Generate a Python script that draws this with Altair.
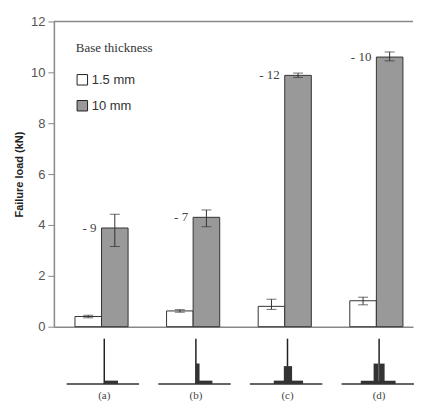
import altair as alt
import pandas as pd

# ---- data ----
groups = [1, 2, 3, 4]
group_labels = ["(a)", "(b)", "(c)", "(d)"]
series = ["1.5 mm", "10 mm"]
thin_mean = [0.40, 0.62, 0.80, 1.02]
thin_low = [0.35, 0.57, 0.68, 0.86]
thin_high = [0.45, 0.67, 1.08, 1.16]
thick_mean = [3.88, 4.30, 9.88, 10.60]
thick_low = [3.15, 3.93, 9.80, 10.45]
thick_high = [4.42, 4.59, 9.97, 10.80]
annotations = ["- 9", "- 7", "- 12", "- 10"]
y_ticks = [0, 2, 4, 6, 8, 10, 12]

# schematic specimen geometry (rib + base fillets), relative units
rib_offset = 0.03
rib_top = -0.47
base_y = -2.25
label_y = -2.72
base_left = -0.41
base_right = 0.38
# fillet rectangles per specimen: (group, dx1, dx2, y_top)
fillets = [
    (1, 0.00, 0.15, -2.12),
    (2, 0.00, 0.04, -1.45), (2, 0.00, 0.18, -2.12),
    (3, -0.04, 0.05, -1.55), (3, -0.15, 0.17, -2.12),
    (4, -0.06, -0.01, -1.45), (4, 0.01, 0.06, -1.45), (4, -0.20, 0.18, -2.12),
]

BW = 0.29

bars = pd.DataFrame({
    "g": groups * 2,
    "series": [series[0]] * 4 + [series[1]] * 4,
    "mean": thin_mean + thick_mean,
    "low": thin_low + thick_low,
    "high": thin_high + thick_high,
})
bars["x1"] = bars.apply(lambda r: r.g - BW if r.series == series[0] else r.g, axis=1)
bars["x2"] = bars.apply(lambda r: r.g if r.series == series[0] else r.g + BW, axis=1)
bars["xc"] = (bars.x1 + bars.x2) / 2

ann = pd.DataFrame({"g": groups, "y": thick_mean, "t": annotations})

diag = pd.DataFrame({"g": groups, "lab": group_labels})
diag["xr"] = diag.g + rib_offset
diag["xb1"] = diag.xr + base_left
diag["xb2"] = diag.xr + base_right
diag["ybase"] = base_y
diag["ytop"] = rib_top
diag["ylab"] = label_y

fil = pd.DataFrame(fillets, columns=["g", "d1", "d2", "yt"])
fil["x1"] = fil.g + rib_offset + fil.d1
fil["x2"] = fil.g + rib_offset + fil.d2
fil["yb"] = base_y

xs = alt.Scale(domain=[0.48, 4.4], nice=False, zero=False)
ys = alt.Scale(domain=[0, 12], nice=False)

xaxis = alt.Axis(labels=False, ticks=False, title=None, grid=False,
                 domainColor="#888", domainWidth=1.5)
yaxis = alt.Axis(values=y_ticks, grid=False, domainColor="#888", domainWidth=1.5,
                 tickColor="#888", tickSize=6, labelColor="#555",
                 labelFont="Liberation Sans", labelFontSize=13, labelPadding=3,
                 title="Failure load (kN)", titleFont="Liberation Sans",
                 titleFontSize=11, titleFontWeight="bold", titleColor="#222",
                 titlePadding=6)

bar_layer = alt.Chart(bars).mark_rect(stroke="#333", strokeWidth=1).encode(
    x=alt.X("x1:Q", scale=xs, axis=xaxis),
    x2="x2:Q",
    y=alt.Y("mean:Q", scale=ys, axis=yaxis),
    y2=alt.datum(0),
    fill=alt.Fill("series:N",
                  scale=alt.Scale(domain=series, range=["white", "#999999"]),
                  legend=alt.Legend(title="Base thickness", orient="none",
                                    legendX=22, legendY=21,
                                    titleFont="Liberation Serif", titleFontSize=13,
                                    titleFontWeight="normal", titleColor="#333",
                                    titlePadding=18,
                                    labelFont="Liberation Sans", labelFontSize=13,
                                    labelColor="#333", symbolType="square",
                                    symbolSize=110, symbolStrokeColor="#222",
                                    symbolStrokeWidth=1, rowPadding=11,
                                    labelOffset=3)),
)

err_rule = alt.Chart(bars).mark_rule(color="#333", strokeWidth=1).encode(
    x="xc:Q", y="low:Q", y2="high:Q")
cap_lo = alt.Chart(bars).mark_tick(color="#333", size=10, thickness=1,
                                   orient="horizontal").encode(x="xc:Q", y="low:Q")
cap_hi = alt.Chart(bars).mark_tick(color="#333", size=10, thickness=1,
                                   orient="horizontal").encode(x="xc:Q", y="high:Q")

ann_layer = alt.Chart(ann).mark_text(align="right", baseline="middle", dx=-5,
                                     font="Liberation Serif", fontSize=13,
                                     color="#444").encode(
    x="g:Q", y="y:Q", text="t:N")

top_line = alt.Chart(pd.DataFrame({"v": [12]})).mark_rule(
    color="#888", strokeWidth=1.5).encode(y="v:Q")

base_line = alt.Chart(diag).mark_rule(color="#333", strokeWidth=1.5).encode(
    x="xb1:Q", x2="xb2:Q", y="ybase:Q")
rib_line = alt.Chart(diag).mark_rule(color="#222", strokeWidth=1.5).encode(
    x="xr:Q", y="ybase:Q", y2="ytop:Q")
fil_layer = alt.Chart(fil).mark_rect(color="#333").encode(
    x="x1:Q", x2="x2:Q", y="yb:Q", y2="yt:Q")
lab_layer = alt.Chart(diag).mark_text(font="Liberation Serif", fontSize=11,
                                      color="#444", baseline="middle").encode(
    x="xr:Q", y="ylab:Q", text="lab:N")

chart = alt.layer(
    top_line, bar_layer, err_rule, cap_lo, cap_hi, ann_layer,
    base_line, rib_line, fil_layer, lab_layer,
).properties(
    width=360, height=306,
    padding={"left": 5, "top": 7, "right": 0, "bottom": 0},
).configure_view(stroke=None)

chart.save("out.html", embed_options={"renderer": "svg", "actions": False})
